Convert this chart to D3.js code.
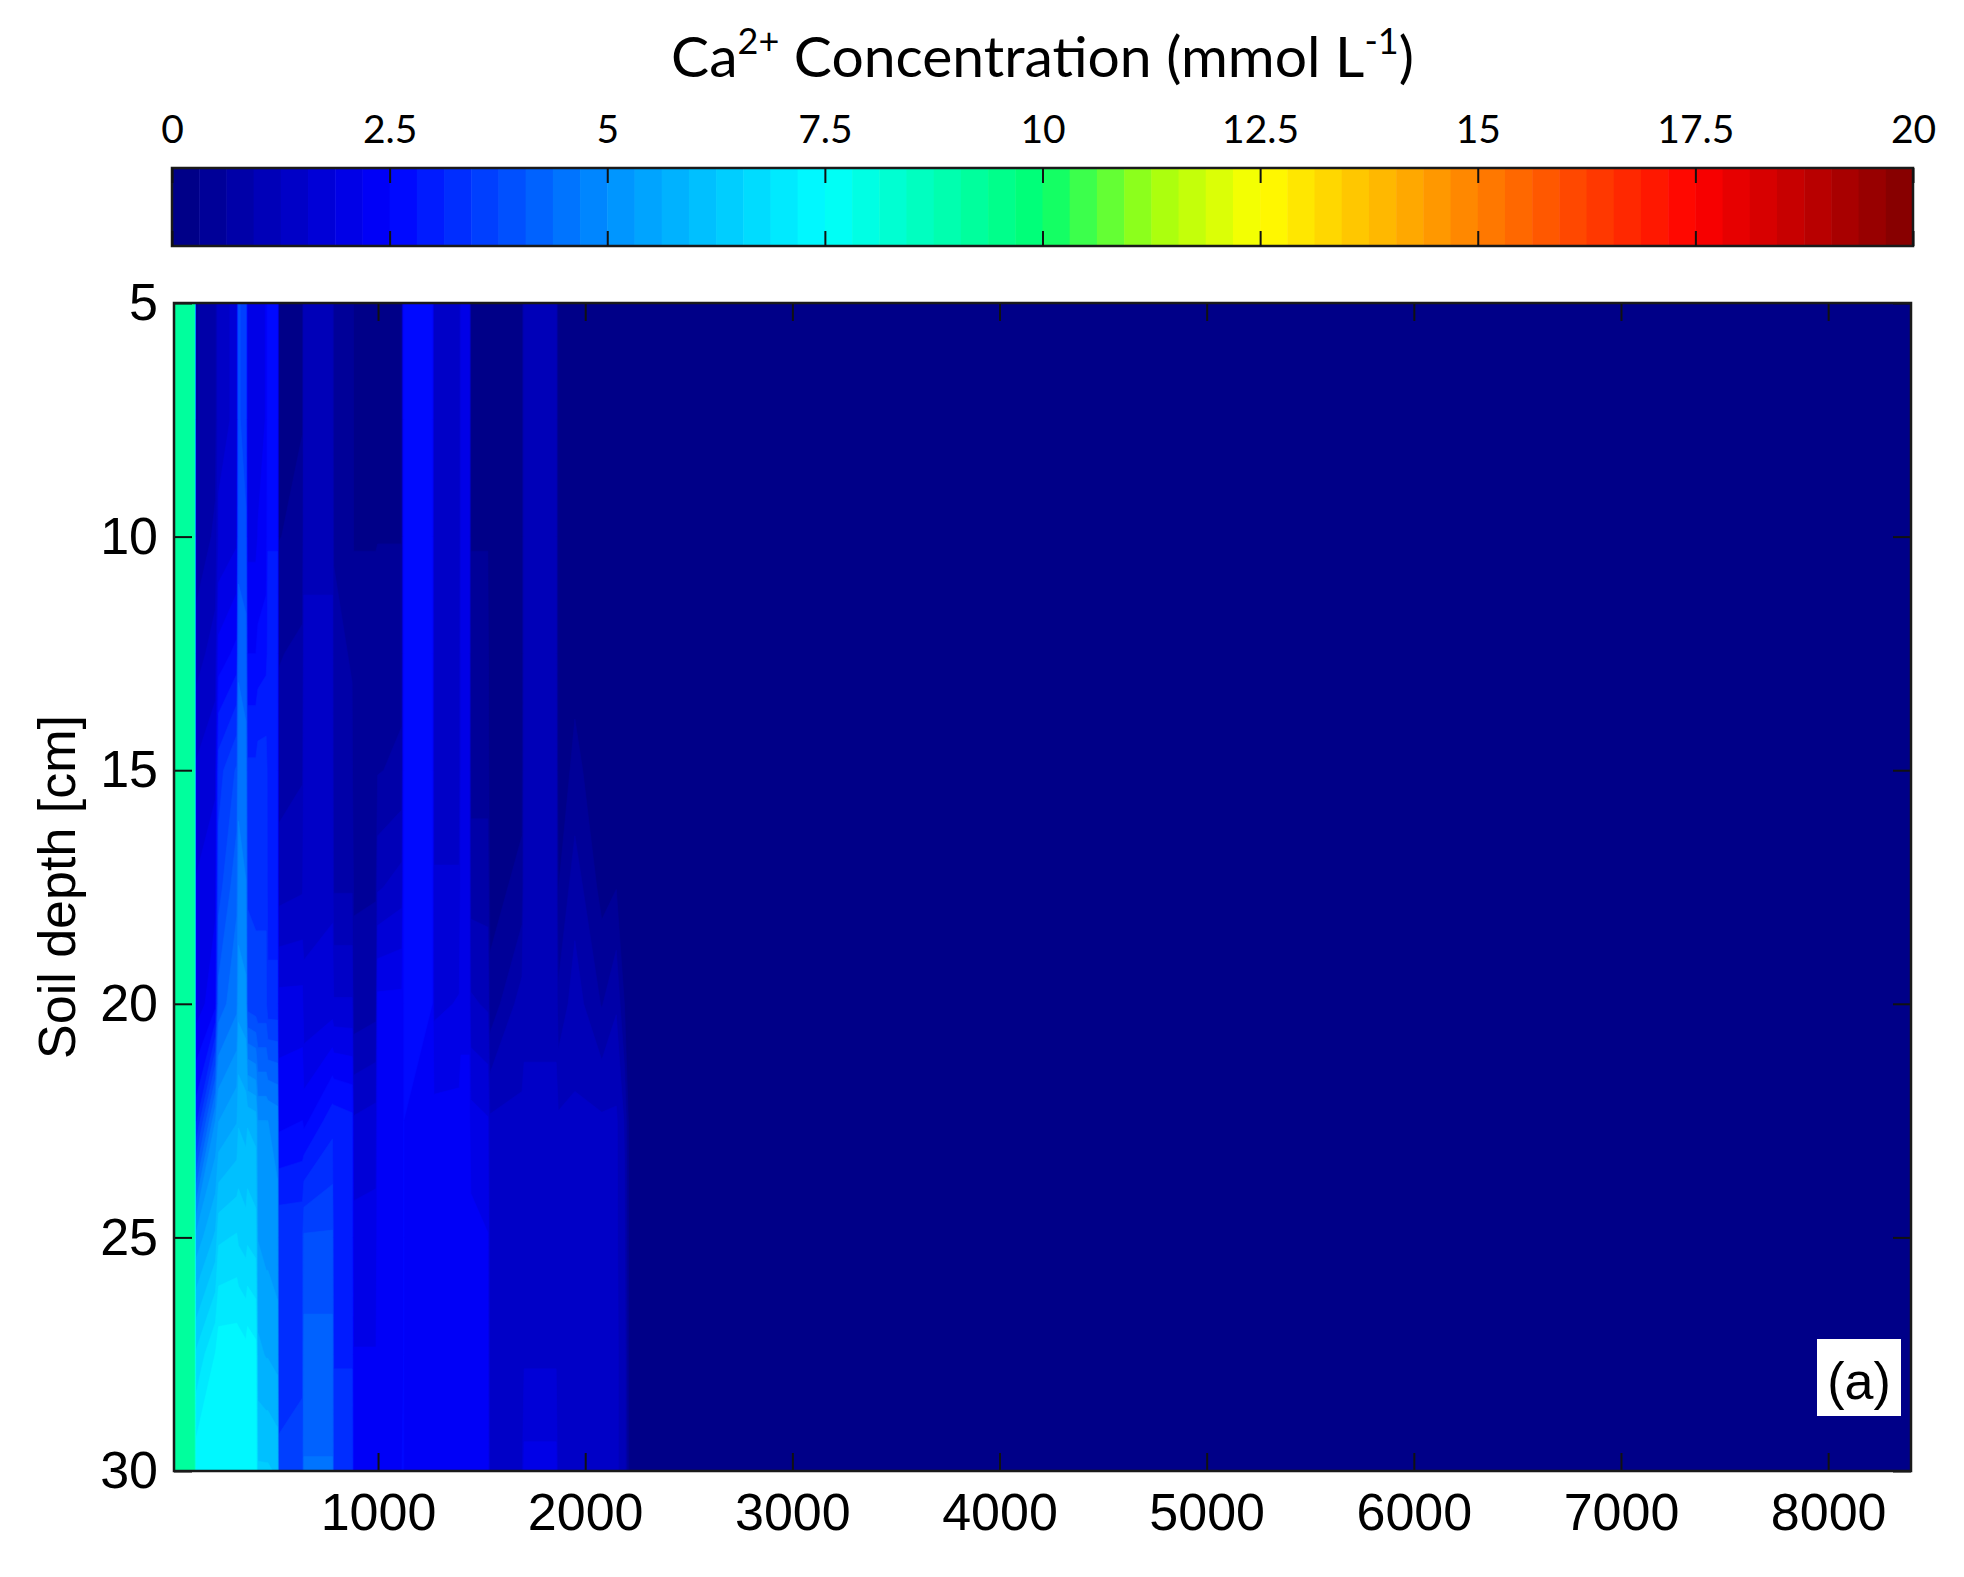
<!DOCTYPE html>
<html>
<head>
<meta charset="utf-8">
<script src="https://cdn.jsdelivr.net/npm/d3@7"></script>
<style>
  html, body { margin: 0; padding: 0; background: #fff; }
  svg { display: block; }
</style>
</head>
<body>
<div id="chart"></div>
<script>
// time axis (x) and soil depth (y) of the contour grid
var times = [15, 112, 120, 215, 230, 318, 326, 362, 370, 410, 420, 460, 468, 514, 520, 635,
  642, 780, 786, 875, 882, 990, 998, 1115, 1124, 1262, 1270, 1392, 1400, 1440, 1448, 1530,
  1540, 1695, 1705, 1860, 1870, 1950, 2080, 2150, 2190, 2215, 8400];
var depths = [5, 7.5, 10, 12.5, 15, 17.5, 20, 22.5, 25, 27.5, 30];

// Ca2+ concentration, one row per time, values from 5 cm down to 30 cm
var conc = [
  [9.1, 9.1, 9.1, 9.1, 9.1, 9.1, 9.1, 9.1, 9.1, 9.1, 9.1],
  [9.1, 9.1, 9.1, 9.1, 9.1, 9.1, 9.1, 9.1, 9.1, 9.1, 9.1],
  [0.6, 0.6, 0.7, 1.1, 1.6, 1.9, 2.0, 3.0, 5.4, 6.6, 7.4],
  [0.8, 0.8, 1.0, 1.4, 1.8, 2.1, 2.4, 5.0, 6.0, 7.2, 7.5],
  [1.5, 1.5, 1.6, 2.3, 3.3, 3.6, 4.2, 5.3, 6.5, 7.4, 7.5],
  [1.6, 1.6, 1.8, 2.6, 3.8, 4.3, 4.6, 5.6, 6.6, 7.4, 7.5],
  [3.8, 3.8, 3.9, 4.3, 4.6, 4.8, 5.2, 5.9, 6.5, 7.4, 7.5],
  [3.6, 3.6, 3.8, 4.2, 4.5, 4.7, 5.1, 5.8, 6.4, 7.3, 7.5],
  [2.0, 2.0, 2.1, 2.5, 3.2, 3.4, 3.6, 5.9, 6.5, 7.4, 7.5],
  [2.0, 2.0, 2.1, 2.5, 3.2, 3.4, 3.5, 5.8, 6.4, 7.3, 7.5],
  [2.1, 2.1, 2.2, 2.6, 3.3, 3.4, 3.5, 5.0, 5.3, 5.7, 6.3],
  [2.2, 2.2, 2.3, 2.7, 3.3, 3.4, 3.5, 5.0, 5.2, 5.6, 6.3],
  [2.8, 2.8, 2.8, 2.9, 3.0, 3.0, 3.2, 5.0, 5.2, 5.6, 6.3],
  [2.8, 2.8, 2.8, 2.9, 3.0, 3.0, 3.2, 4.9, 5.1, 5.5, 6.2],
  [0.2, 0.2, 0.3, 0.6, 0.8, 1.1, 2.0, 2.4, 3.4, 3.3, 3.5],
  [0.3, 0.3, 0.4, 0.7, 0.9, 1.2, 2.0, 2.5, 3.4, 3.4, 3.5],
  [1.2, 1.2, 1.2, 1.3, 1.4, 1.5, 1.6, 2.4, 3.8, 4.2, 4.4],
  [1.1, 1.1, 1.2, 1.3, 1.4, 1.5, 1.7, 3.0, 3.8, 4.2, 4.4],
  [0.6, 0.6, 0.6, 0.7, 0.7, 0.9, 1.6, 3.0, 2.9, 3.1, 3.3],
  [0.5, 0.5, 0.5, 0.6, 0.7, 0.9, 1.6, 2.9, 2.9, 3.1, 3.3],
  [0.3, 0.3, 0.3, 0.4, 0.4, 0.6, 0.7, 1.6, 2.0, 2.2, 2.4],
  [0.3, 0.3, 0.3, 0.4, 0.5, 0.6, 0.8, 1.7, 2.0, 2.2, 2.4],
  [0.3, 0.3, 0.3, 0.5, 0.6, 1.2, 2.3, 2.4, 2.4, 2.4, 2.4],
  [0.3, 0.3, 0.3, 0.5, 0.7, 1.4, 2.3, 2.4, 2.4, 2.4, 2.5],
  [2.6, 2.6, 2.6, 2.5, 2.5, 2.5, 2.5, 2.5, 2.5, 2.5, 2.5],
  [2.5, 2.5, 2.5, 2.5, 2.5, 2.5, 2.5, 2.4, 2.4, 2.4, 2.4],
  [1.3, 1.3, 1.3, 1.4, 1.4, 1.6, 1.8, 2.3, 2.4, 2.4, 2.4],
  [1.3, 1.3, 1.3, 1.4, 1.4, 1.6, 1.9, 2.3, 2.4, 2.4, 2.4],
  [1.9, 1.9, 1.9, 1.9, 1.9, 2.0, 2.1, 2.3, 2.4, 2.4, 2.4],
  [1.9, 1.9, 1.9, 1.9, 1.9, 2.0, 2.1, 2.3, 2.4, 2.4, 2.4],
  [0.3, 0.3, 0.3, 0.4, 0.5, 0.8, 1.3, 2.0, 2.3, 2.4, 2.4],
  [0.3, 0.3, 0.3, 0.4, 0.5, 0.8, 1.2, 1.9, 2.2, 2.3, 2.4],
  [0.1, 0.1, 0.1, 0.1, 0.1, 0.2, 0.4, 1.3, 1.3, 1.3, 1.3],
  [0.1, 0.1, 0.1, 0.1, 0.2, 0.4, 1.1, 1.3, 1.3, 1.4, 1.5],
  [1.1, 1.1, 1.1, 1.1, 1.1, 1.1, 1.2, 1.3, 1.3, 1.5, 2.0],
  [1.0, 1.0, 1.0, 1.0, 1.1, 1.1, 1.2, 1.3, 1.3, 1.5, 2.0],
  [0.1, 0.1, 0.1, 0.1, 0.1, 0.3, 0.7, 1.3, 1.3, 1.3, 1.3],
  [0.1, 0.1, 0.1, 0.2, 0.4, 0.8, 1.1, 1.3, 1.3, 1.3, 1.3],
  [0.1, 0.1, 0.1, 0.1, 0.1, 0.2, 0.6, 1.3, 1.3, 1.3, 1.3],
  [0.1, 0.1, 0.1, 0.1, 0.1, 0.3, 0.9, 1.3, 1.3, 1.3, 1.3],
  [0.1, 0.1, 0.1, 0.1, 0.1, 0.1, 0.3, 0.9, 1.0, 1.1, 1.1],
  [0.1, 0.1, 0.1, 0.1, 0.1, 0.1, 0.1, 0.1, 0.1, 0.1, 0.1],
  [0.1, 0.1, 0.1, 0.1, 0.1, 0.1, 0.1, 0.1, 0.1, 0.1, 0.1]
];

var xTicks = [1000, 2000, 3000, 4000, 5000, 6000, 7000, 8000];
var yTicks = [5, 10, 15, 20, 25, 30];
var cbTicks = [0, 2.5, 5, 7.5, 10, 12.5, 15, 17.5, 20];
var nLevels = 64;

// colour map as it appears on the printed colour bar (jet-like)
var cStops = [0, 2.5, 5, 7.5, 10, 11.25, 12.5, 15, 17.5, 20];
var cColors = ["#000080", "#0000ff", "#008fff", "#00ffff", "#00ff70", "#a0ff10",
  "#ffff00", "#ff8000", "#ff0000", "#800000"];

var W = 1964, H = 1577;
var arial = "'Liberation Sans', Arial, sans-serif";
var calibri = "Lato, 'Open Sans', sans-serif";

var cmap = d3.scaleLinear().domain(cStops).range(cColors);
var step = 20 / nLevels;
function bandColor(k) { return cmap((k + 0.5) * step); }

var x = d3.scaleLinear().domain([15, 8400]).range([174, 1911]);
var y = d3.scaleLinear().domain([5, 30]).range([303, 1471]);
var cbX = d3.scaleLinear().domain([0, 20]).range([172, 1913]);
var cbTop = 168, cbBottom = 246;

var svg = d3.select("#chart").append("svg")
  .attr("width", W)
  .attr("height", H);

svg.append("rect").attr("width", W).attr("height", H).attr("fill", "#fff");

// ---- contour field
var n = times.length, m = depths.length;
var grid = new Array(n * m);
for (var j = 0; j < m; j++) {
  for (var i = 0; i < n; i++) grid[i + j * n] = conc[i][j];
}
var thresholds = d3.range(1, nLevels).map(function(k) { return k * step; });
var contours = d3.contours().size([n, m]).thresholds(thresholds)(grid);

var ti = d3.scaleLinear().domain(d3.range(n)).range(times).clamp(true);
var di = d3.scaleLinear().domain(d3.range(m)).range(depths).clamp(true);
var proj = d3.geoTransform({
  point: function(gx, gy) {
    this.stream.point(x(ti(gx - 0.5)), y(di(gy - 0.5)));
  }
});
var path = d3.geoPath(proj);

svg.append("clipPath").attr("id", "plotclip")
  .append("rect")
  .attr("x", x.range()[0]).attr("y", y.range()[0])
  .attr("width", x.range()[1] - x.range()[0])
  .attr("height", y.range()[1] - y.range()[0]);

var field = svg.append("g").attr("clip-path", "url(#plotclip)");
field.append("rect")
  .attr("x", x.range()[0]).attr("y", y.range()[0])
  .attr("width", x.range()[1] - x.range()[0])
  .attr("height", y.range()[1] - y.range()[0])
  .attr("fill", bandColor(0));

field.selectAll("path")
  .data(contours)
  .enter().append("path")
  .attr("d", path)
  .attr("fill", function(d) { return bandColor(Math.round(d.value / step)); })
  .attr("stroke", function(d) { return bandColor(Math.round(d.value / step)); })
  .attr("stroke-width", 0.6);

// ---- axes (ticks inside the box, as in the original)
var tickLen = 18;
svg.append("g")
  .attr("transform", "translate(0," + y.range()[1] + ")")
  .call(d3.axisBottom(x).tickValues(xTicks).tickSize(-tickLen).tickSizeOuter(0).tickPadding(22)
    .tickFormat(d3.format("d")));
svg.append("g")
  .attr("transform", "translate(0," + y.range()[0] + ")")
  .call(d3.axisTop(x).tickValues(xTicks).tickSize(-tickLen).tickSizeOuter(0).tickFormat(""));
svg.append("g")
  .attr("transform", "translate(" + x.range()[0] + ",0)")
  .call(d3.axisLeft(y).tickValues(yTicks).tickSize(-tickLen).tickSizeOuter(0).tickPadding(16));
svg.append("g")
  .attr("transform", "translate(" + x.range()[1] + ",0)")
  .call(d3.axisRight(y).tickValues(yTicks).tickSize(-tickLen).tickSizeOuter(0).tickFormat(""));

svg.selectAll(".domain").remove();
svg.selectAll(".tick text")
  .attr("fill", "#000")
  .style("font-family", arial)
  .style("font-size", "52px");

svg.append("rect")
  .attr("x", x.range()[0]).attr("y", y.range()[0])
  .attr("width", x.range()[1] - x.range()[0])
  .attr("height", y.range()[1] - y.range()[0])
  .attr("fill", "none")
  .attr("stroke", "#1a1a1a")
  .attr("stroke-width", 2.5);

svg.append("text")
  .attr("transform", "translate(56," + (y.range()[0] + y.range()[1]) / 2 + ") rotate(-90)")
  .attr("text-anchor", "middle")
  .attr("dy", "0.36em")
  .style("font-family", arial)
  .style("font-size", "52px")
  .text("Soil depth [cm]");

// panel tag
var tag = svg.append("g");
tag.append("rect")
  .attr("x", 1817).attr("y", 1339).attr("width", 84).attr("height", 77)
  .attr("fill", "#fff");
tag.append("text")
  .attr("x", 1859).attr("y", 1399)
  .attr("text-anchor", "middle")
  .style("font-family", arial)
  .style("font-size", "52px")
  .text("(a)");

// ---- colour bar
var cb = svg.append("g");
cb.selectAll("rect.band")
  .data(d3.range(nLevels))
  .enter().append("rect")
  .attr("class", "band")
  .attr("x", function(k) { return cbX(k * step); })
  .attr("y", cbTop)
  .attr("width", function(k) { return cbX((k + 1) * step) - cbX(k * step) + 0.5; })
  .attr("height", cbBottom - cbTop)
  .attr("fill", function(k) { return bandColor(k); });

var cbTickLen = 15;
var gcb = svg.append("g")
  .attr("transform", "translate(0," + cbTop + ")")
  .call(d3.axisTop(cbX).tickValues(cbTicks).tickSize(-cbTickLen).tickSizeOuter(0).tickPadding(25)
    .tickFormat(function(d) { return String(d); }));
svg.append("g")
  .attr("transform", "translate(0," + cbBottom + ")")
  .call(d3.axisBottom(cbX).tickValues(cbTicks).tickSize(-cbTickLen).tickSizeOuter(0).tickFormat(""));
svg.selectAll(".domain").remove();
gcb.selectAll(".tick text")
  .attr("fill", "#000")
  .style("font-family", calibri)
  .style("font-size", "39px");
svg.selectAll(".tick line").attr("stroke", "#111").attr("stroke-width", 2);

cb.append("rect")
  .attr("x", cbX.range()[0]).attr("y", cbTop)
  .attr("width", cbX.range()[1] - cbX.range()[0])
  .attr("height", cbBottom - cbTop)
  .attr("fill", "none")
  .attr("stroke", "#1a1a1a")
  .attr("stroke-width", 2.5);

// colour bar title with superscripts
var title = svg.append("text")
  .attr("x", (cbX.range()[0] + cbX.range()[1]) / 2)
  .attr("y", 77)
  .attr("text-anchor", "middle")
  .style("font-family", calibri)
  .style("font-size", "57px")
  .attr("fill", "#000");
title.append("tspan").text("Ca");
title.append("tspan").attr("dy", -23).style("font-size", "36px").text("2+");
title.append("tspan").attr("dy", 23).text(" Concentration (mmol L");
title.append("tspan").attr("dy", -23).style("font-size", "36px").text("-1");
title.append("tspan").attr("dy", 23).text(")");
</script>
</body>
</html>
